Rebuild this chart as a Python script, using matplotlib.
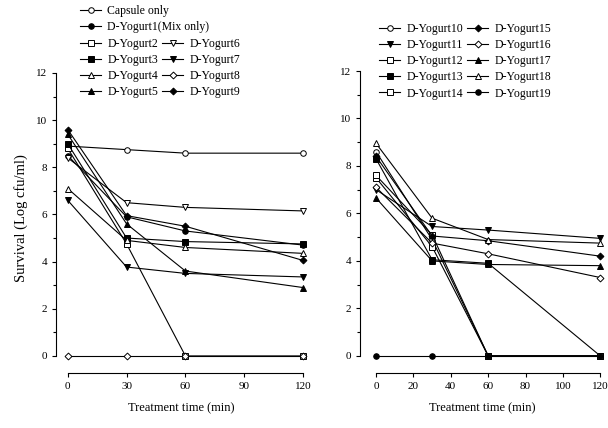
import numpy as np
import matplotlib.pyplot as plt

plt.rcParams['font.family'] = ['Liberation Serif', 'DejaVu Serif']

# Treatment time (min)
time = [0, 30, 60, 120]

# Left panel: survival (Log cfu/ml)
capsule_only = [8.9, 8.75, 8.6, 8.6]
yogurt1 = [8.5, 5.9, 5.3, 4.7]
yogurt2 = [8.8, 4.75, 0, 0]
yogurt3 = [9.0, 5.0, 4.85, 4.75]
yogurt4 = [7.1, 4.9, 4.6, 4.35]
yogurt5 = [9.4, 5.6, 3.6, 2.9]
yogurt6 = [8.4, 6.5, 6.3, 6.15]
yogurt7 = [6.6, 3.77, 3.5, 3.35]
yogurt8 = [0, 0, 0, 0]
yogurt9 = [9.6, 5.95, 5.5, 4.05]

# Right panel
yogurt10 = [8.6, 4.9, 0, 0]
yogurt11 = [7.0, 5.45, 5.3, 4.95]
yogurt12 = [7.5, 4.6, 0, 0]
yogurt13 = [8.3, 4.05, 3.9, 0]
yogurt14 = [7.6, 5.1, 0, 0]
yogurt15 = [8.4, 5.05, 4.85, 4.2]
yogurt16 = [7.1, 4.75, 4.3, 3.3]
yogurt17 = [6.65, 4.0, 3.85, 3.8]
yogurt18 = [8.95, 5.8, 4.9, 4.75]
yogurt19 = [0, 0, 0, 0]

left_series = [
    ("Capsule only", capsule_only, "o", False),
    ("D-Yogurt1(Mix only)", yogurt1, "o", True),
    ("D-Yogurt2", yogurt2, "s", False),
    ("D-Yogurt3", yogurt3, "s", True),
    ("D-Yogurt4", yogurt4, "^", False),
    ("D-Yogurt5", yogurt5, "^", True),
    ("D-Yogurt6", yogurt6, "v", False),
    ("D-Yogurt7", yogurt7, "v", True),
    ("D-Yogurt8", yogurt8, "D", False),
    ("D-Yogurt9", yogurt9, "D", True),
]
right_series = [
    ("D-Yogurt10", yogurt10, "o", False),
    ("D-Yogurt11", yogurt11, "v", True),
    ("D-Yogurt12", yogurt12, "s", False),
    ("D-Yogurt13", yogurt13, "s", True),
    ("D-Yogurt14", yogurt14, "s", False),
    ("D-Yogurt15", yogurt15, "D", True),
    ("D-Yogurt16", yogurt16, "D", False),
    ("D-Yogurt17", yogurt17, "^", True),
    ("D-Yogurt18", yogurt18, "^", False),
    ("D-Yogurt19", yogurt19, "o", True),
]

W, H = 608, 428
fig = plt.figure(figsize=(W / 100, H / 100), dpi=100)
ax1 = fig.add_axes([56 / W, 65 / H, 251 / W, 290 / H])
ax2 = fig.add_axes([360 / W, 65 / H, 244 / W, 292 / H])


def draw(ax, series):
    lines = []
    for label, vals, mk, filled in series:
        ln, = ax.plot(time, vals, color="black", lw=0.8, marker=mk,
                      markersize=4 if mk != "D" else 3.5,
                      markerfacecolor="black" if filled else "white",
                      markeredgecolor="black", markeredgewidth=0.7,
                      label=label)
        lines.append(ln)
    ax.set_ylim(-0.3, 12)
    ax.spines["top"].set_visible(False)
    ax.spines["right"].set_visible(False)
    ax.spines["left"].set_bounds(0, 12)
    ax.spines["bottom"].set_bounds(0, 120)
    ax.spines["bottom"].set_position(("outward", 7))
    ax.spines["left"].set_linewidth(0.8)
    ax.spines["bottom"].set_linewidth(0.8)
    ax.set_yticks(np.arange(0, 13, 2))
    ax.set_yticks(np.arange(1, 12, 2), minor=True)
    ax.tick_params(labelsize=8, length=3, width=0.8)
    ax.tick_params(which="minor", length=2, width=0.8)
    ax.set_xlabel("Treatment time (min)", fontsize=9, labelpad=8)
    return lines


l1 = draw(ax1, left_series)
ax1.set_xlim(-6, 122)
ax1.set_xticks([0, 30, 60, 90, 120])
ax1.set_ylabel("Survival (Log cfu/ml)", fontsize=10.5, labelpad=6)

l2 = draw(ax2, right_series)
ax2.set_xlim(-8.6, 122)
ax2.set_xticks([0, 20, 40, 60, 80, 100, 120])

leg_kw = dict(frameon=False, fontsize=8.5, handlelength=1.8, handletextpad=0.5,
              borderpad=0, borderaxespad=0, labelspacing=0.35,
              columnspacing=0.35, bbox_transform=fig.transFigure, loc="upper left")

leg_a = fig.legend(handles=l1[:2], ncol=1, bbox_to_anchor=(80 / W, 1 - 5 / H), **leg_kw)
leg_b = fig.legend(handles=l1[2:], ncol=2, bbox_to_anchor=(80 / W, 1 - 38 / H), **leg_kw)
leg_c = fig.legend(handles=l2, ncol=2, bbox_to_anchor=(379 / W, 1 - 23 / H), **leg_kw)

fig.savefig("out.png", dpi=100)
